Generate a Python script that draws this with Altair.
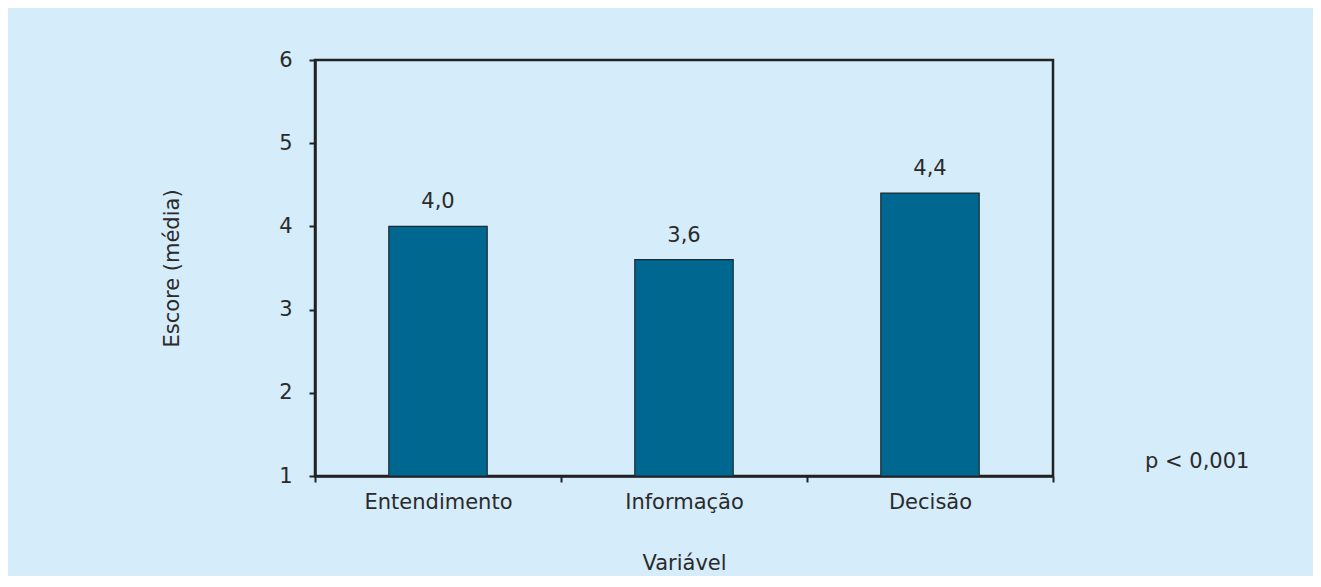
import altair as alt
import pandas as pd

categories = ["Entendimento", "Informação", "Decisão"]
scores = [4.0, 3.6, 4.4]
y_ticks = [1, 2, 3, 4, 5, 6]
note_text = ["p < 0,001"]

df = pd.DataFrame({"Variável": categories, "Escore": scores})
note_df = pd.DataFrame({"note": note_text})

FONT = "DejaVu Sans"
FS = 21
INK = "#2a2a2a"

x_enc = alt.X(
    "Variável:N",
    sort=categories,
    scale=alt.Scale(paddingInner=0, paddingOuter=0),
    axis=alt.Axis(
        title="Variável",
        labelAngle=0,
        tickBand="extent",
        ticks=True,
        tickSize=6,
        labelPadding=9,
        titlePadding=40,
    ),
)
y_enc = alt.Y(
    "Escore:Q",
    scale=alt.Scale(domain=[1, 6], nice=False, zero=False),
    axis=alt.Axis(
        title="Escore (média)",
        values=y_ticks,
        format="d",
        tickSize=6,
        labelPadding=17,
        titlePadding=96,
        grid=False,
    ),
)

bars = alt.Chart(df).mark_bar(
    color="#006890", stroke="#1e2a30", strokeWidth=1.2, width={"band": 0.4}
).encode(x=x_enc, y=y_enc, y2=alt.datum(1))

labels = alt.Chart(df).transform_calculate(
    lbl="replace(format(datum.Escore, '.1f'), '.', ',')"
).mark_text(
    baseline="bottom", dy=-14, font=FONT, fontSize=FS, color=INK
).encode(x=alt.X("Variável:N", sort=categories), y="Escore:Q", text="lbl:N")

note = alt.Chart(note_df).mark_text(
    align="left", baseline="middle", font=FONT, fontSize=FS, color=INK, clip=False
).encode(x=alt.value(830), y=alt.value(402), text="note:N")

chart = alt.layer(bars, labels, note).properties(
    width=738,
    height=416,
    autosize=alt.AutoSizeParams(type="none"),
    padding={"left": 307, "top": 52, "right": 260, "bottom": 100},
    background="#d5ecfa",
).configure_view(
    stroke="#222222", strokeWidth=2.5, fill="#d5ecfa"
).configure_axis(
    domainColor="#222222",
    domainWidth=2.5,
    tickColor="#222222",
    tickWidth=2,
    labelFont=FONT,
    labelFontSize=FS,
    labelColor=INK,
    titleFont=FONT,
    titleFontSize=FS,
    titleFontWeight="normal",
    titleColor=INK,
)

chart.save("out.html", embed_options={"renderer": "svg", "actions": False})
